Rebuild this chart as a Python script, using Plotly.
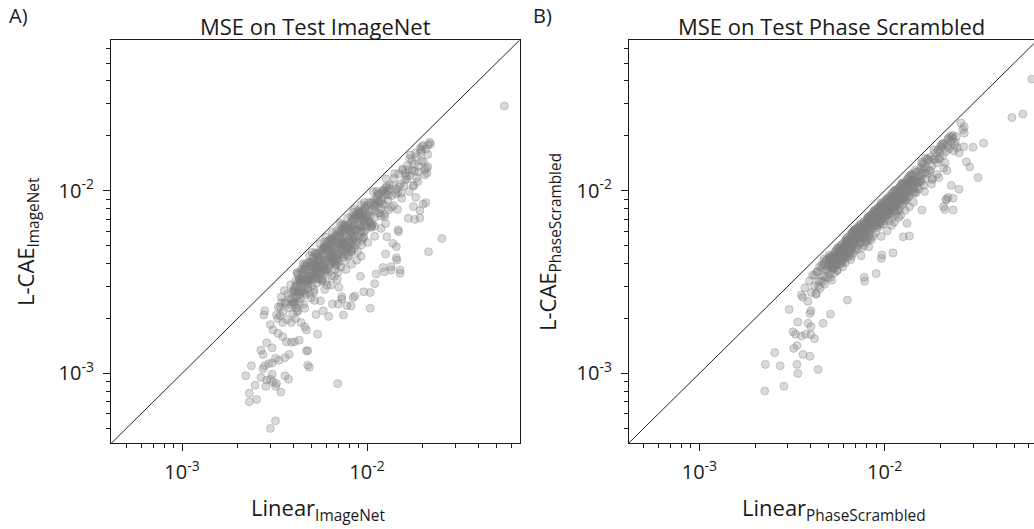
import plotly.graph_objects as go

W, H = 1034, 529

# ---------------- Panel A: MSE on Test ImageNet (values in units of 1e-3) ----------------
imagenet_linear_tail = [
    2.21, 2.31, 2.31, 2.53, 2.48, 2.37, 2.67, 2.87, 3.00, 3.10,
    3.24, 3.42, 3.76, 3.60, 2.84, 3.20, 3.07, 2.74, 2.79, 2.94,
    3.07, 3.20, 3.60, 3.80, 3.34, 4.78, 4.88, 4.70, 4.78, 2.67,
    2.74, 2.87, 3.07, 2.77, 3.24, 3.45, 3.60, 3.10, 3.30, 3.50,
    3.66, 3.90, 4.05, 4.30, 5.40, 4.70, 4.60, 10.4, 10.4, 6.94,
    3.0, 3.2, 55.2, 25.4, 21.5, 3.9, 4.1, 4.4, 4.2, 3.3,
    3.0, 3.5, 3.4, 2.8, 5.3, 5.8, 6.2, 5.6, 6.5, 7.0,
    7.3, 7.8, 8.4, 9.6, 11.0, 11.2, 12.2, 13.5, 15.1, 14.4,
    14.7, 18.3, 20.8, 17.8, 19.3, 22.0, 19.8, 21.1, 12.6, 9.2,
    15.1, 13.5, 12.4, 14.5, 8.6, 8.2, 7.45, 7.3, 14.8, 14.4,
    12.8, 13.8, 16.7, 18.1, 20.1, 19.3, 20.5, 21.4, 19.7, 17.0,
]
imagenet_lcae_tail = [
    0.97, 0.78, 0.70, 0.72, 0.86, 1.10, 0.95, 0.92, 0.93, 0.90,
    0.88, 0.79, 0.93, 0.97, 0.85, 0.85, 0.99, 1.06, 1.10, 1.13,
    1.14, 1.21, 1.22, 1.27, 1.18, 1.11, 1.08, 1.33, 1.33, 1.34,
    1.27, 1.47, 1.38, 2.09, 2.09, 2.44, 2.46, 1.73, 1.66, 1.59,
    1.49, 1.48, 1.49, 1.52, 1.64, 1.73, 1.80, 2.77, 2.27, 0.88,
    0.50, 0.55, 29.1, 5.48, 4.64, 1.90, 2.00, 1.90, 2.20, 2.00,
    1.85, 1.90, 2.30, 2.20, 2.10, 2.20, 2.05, 2.50, 2.40, 2.40,
    2.55, 2.35, 2.60, 2.80, 3.10, 3.50, 3.80, 3.84, 3.68, 4.30,
    6.10, 9.20, 8.60, 8.20, 7.10, 18.0, 17.4, 12.5, 4.50, 3.40,
    3.53, 3.68, 3.60, 4.18, 2.65, 2.34, 2.09, 2.63, 5.97, 4.94,
    5.60, 5.15, 7.06, 6.97, 8.45, 7.80, 12.2, 17.8, 16.7, 15.0,
]
imagenet_linear_core = [
    3.31, 3.38, 3.44, 3.52, 3.57, 3.63, 3.69, 3.74, 3.8, 3.86,
    3.91, 3.97, 4.02, 4.07, 4.12, 4.16, 4.21, 4.25, 4.28, 4.3,
    4.33, 4.37, 4.41, 4.45, 4.49, 4.53, 4.57, 4.61, 4.65, 4.69,
    4.73, 4.78, 4.82, 4.86, 4.91, 4.95, 5.0, 5.04, 5.09, 5.13,
    5.18, 5.22, 5.27, 5.31, 5.36, 5.4, 5.45, 5.48, 4.6, 5.2,
    5.52, 5.57, 5.62, 5.67, 5.72, 5.77, 5.82, 5.88, 5.93, 5.98,
    6.04, 6.1, 6.15, 6.21, 6.27, 6.32, 6.38, 6.44, 6.5, 6.56,
    6.62, 6.68, 6.74, 6.8, 6.86, 6.92, 6.98, 7.04, 7.1, 7.16,
    5.9, 6.4, 6.9, 7.05,
    7.23, 7.3, 7.37, 7.44, 7.51, 7.58, 7.66, 7.73, 7.81, 7.88,
    7.96, 8.04, 8.12, 8.2, 8.28, 8.36, 8.45, 8.53, 8.62, 8.71,
    8.8, 8.89, 8.98, 9.07, 9.17, 9.26, 9.36, 9.46, 7.7, 8.25,
    8.8, 9.3,
    9.57, 9.68, 9.8, 9.92, 10.04, 10.17, 10.3, 10.43, 10.57, 10.7,
    10.84, 10.98, 11.13, 11.28, 11.43, 11.58, 11.74, 11.9, 12.07, 12.24,
    12.41, 12.59, 12.77, 12.95, 10.1, 11.0, 11.9, 12.6,
    13.2, 13.6, 14.0, 14.4, 14.8, 15.2, 15.6, 16.1, 16.5, 17.0,
    17.5, 18.0, 18.5, 19.0, 19.6, 20.2, 20.8, 13.9, 15.4, 16.9,
    17.8, 18.8, 14.6, 21.3,
]
imagenet_lcae_core = [
    2.31, 2.07, 2.62, 2.18, 2.84, 2.41, 1.97, 2.73, 2.29, 3.05,
    2.54, 2.12, 2.87, 2.38, 3.21, 2.63, 2.19, 3.47, 2.81, 2.44,
    3.12, 2.58, 3.61, 2.83, 3.34, 2.39, 3.72, 3.07, 2.69, 3.88,
    3.26, 2.91, 3.54, 4.06, 2.74, 3.41, 3.89, 3.02, 4.27, 3.63,
    2.86, 3.97, 3.38, 4.49, 3.12, 3.77, 4.18, 3.31, 2.27, 2.51,
    4.07, 3.51, 4.62, 3.86, 3.24, 4.41, 4.88, 3.67, 4.29, 3.19,
    4.96, 4.08, 3.57, 4.73, 5.21, 3.94, 4.46, 3.43, 5.37, 4.62,
    4.01, 5.52, 3.71, 4.87, 5.68, 4.24, 3.59, 5.11, 5.84, 4.52,
    2.88, 3.05, 3.27, 2.96,
    5.33, 4.48, 6.02, 5.12, 4.11, 5.79, 6.34, 4.86, 5.57, 4.37,
    6.53, 5.31, 5.94, 4.69, 6.88, 5.62, 6.21, 4.84, 7.06, 6.11,
    5.27, 7.34, 6.48, 5.63, 7.57, 6.27, 5.06, 7.21, 3.71, 3.96,
    4.17, 4.38,
    6.84, 7.92, 6.11, 7.43, 8.27, 6.72, 7.71, 8.56, 6.38, 7.94,
    8.83, 7.12, 8.29, 9.31, 7.57, 8.74, 9.62, 7.98, 9.13, 10.07,
    8.36, 9.48, 10.54, 8.87, 5.21, 5.63, 6.22, 6.61,
    10.8, 9.4, 11.7, 10.2, 12.4, 10.9, 12.9, 11.5, 13.7, 12.1,
    14.6, 12.8, 15.3, 13.6, 16.2, 14.4, 16.9, 8.3, 9.1, 9.9,
    10.6, 11.2, 7.9, 15.8,
]
imagenet_linear_dense = [
    3.82, 3.9, 3.95, 4.05, 4.11, 4.19, 4.23, 4.31, 4.36, 4.42,
    4.47, 4.55, 4.59, 4.66, 4.71, 4.77, 4.84, 4.88, 4.93, 5.02,
    5.06, 5.11, 5.16, 5.24, 5.29, 5.34, 5.39, 5.44, 5.5, 5.55,
    5.61, 5.66, 5.7, 5.79, 5.84, 5.87, 5.95, 6.01, 6.06, 6.13,
    6.19, 6.24, 6.29, 6.36, 6.42, 6.47, 6.53, 6.59, 6.64, 6.72,
    6.77, 6.83, 6.88, 6.96, 7.01, 7.07, 7.14, 7.2, 7.27, 7.33,
    7.41, 7.47, 7.55, 7.62, 7.68, 7.76, 7.83, 7.91, 7.99, 8.07,
    8.15, 8.22, 8.31, 8.39, 8.48, 8.57, 8.66, 8.75, 8.84, 8.93,
    9.02, 9.12, 9.21, 9.31, 9.42, 9.52, 9.63, 9.74, 9.85, 9.97,
    10.08, 10.2, 10.33, 10.45, 10.58, 10.71, 10.85, 10.99, 11.13, 11.28,
    11.43, 11.59, 11.75, 11.92, 12.09, 12.26, 12.44, 12.62, 12.81, 13.0,
    4.0, 4.8, 5.6, 6.5, 7.4, 8.5, 9.6, 10.9, 5.2, 6.2,
]
imagenet_lcae_dense = [
    2.56, 2.38, 2.77, 2.47, 3.00, 3.56, 2.71, 3.28, 3.18, 2.96,
    3.26, 3.73, 3.90, 3.68, 4.00, 3.20, 3.10, 3.27, 4.04, 3.51,
    3.85, 3.27, 3.92, 3.67, 3.54, 3.58, 4.42, 3.64, 3.52, 4.38,
    4.77, 4.13, 3.31, 3.71, 4.79, 4.81, 4.17, 3.67, 5.15, 4.84,
    3.78, 4.74, 5.35, 4.26, 5.46, 5.50, 4.38, 5.21, 4.85, 4.10,
    3.93, 4.99, 5.64, 4.45, 4.07, 6.01, 5.64, 5.04, 6.18, 5.13,
    5.19, 5.45, 6.42, 4.88, 5.15, 4.50, 6.19, 6.49, 4.87, 6.13,
    5.71, 4.77, 6.32, 5.37, 6.95, 6.51, 5.54, 5.08, 7.25, 7.59,
    7.67, 7.48, 7.00, 5.96, 7.72, 5.52, 6.45, 6.82, 8.08, 6.38,
    7.36, 6.83, 7.23, 6.69, 6.45, 6.53, 8.57, 6.37, 8.46, 8.91,
    9.72, 9.50, 7.52, 7.27, 8.46, 10.05, 7.22, 10.35, 9.74, 9.49,
    2.44, 3.22, 3.58, 5.33, 4.74, 5.70, 5.57, 8.28, 3.95, 4.34,
]
imagenet_linear_extra = [
    10.2, 10.5, 10.8, 11.05, 11.3, 11.6, 11.85, 12.15, 12.4, 12.7,
    12.95, 13.25, 13.5, 13.8, 14.1, 14.35, 14.65, 14.95, 15.25, 15.55,
    15.85, 16.15, 16.5, 16.8, 17.15, 17.5, 17.85, 18.2, 18.55, 18.9,
    19.3, 19.7, 20.1, 20.5, 20.9, 21.3, 21.8, 16.3, 18.0, 13.1,
    4.52, 4.9, 5.25, 5.58, 5.9, 6.18, 6.5, 6.85, 7.15, 7.5,
    7.85, 8.2, 8.6, 8.95, 9.3, 9.7, 5.05, 6.0, 7.3, 8.4,
    4.15, 4.62, 4.98, 5.33, 5.71, 6.08, 6.45, 6.83, 7.22, 7.6,
    8.0, 8.45, 8.9, 9.4, 4.4, 5.15, 5.95, 6.65, 7.45, 8.25,
]
imagenet_lcae_extra = [
    8.62, 6.30, 9.88, 7.79, 9.94, 8.58, 8.77, 9.84, 7.44, 11.62,
    10.04, 10.27, 8.10, 10.70, 12.41, 9.61, 9.82, 10.54, 9.68, 13.14,
    10.62, 12.52, 11.63, 13.02, 15.69, 12.95, 10.71, 16.02, 11.78, 12.66,
    16.98, 14.58, 17.69, 13.02, 13.27, 13.53, 18.42, 12.06, 13.95, 7.86,
    3.98, 4.41, 4.57, 5.13, 5.25, 5.31, 5.92, 6.03, 6.65, 6.53,
    7.07, 7.22, 7.91, 7.79, 8.37, 8.63, 4.60, 5.58, 6.50, 7.64,
    2.28, 2.77, 2.59, 3.30, 3.20, 3.04, 4.13, 3.96, 3.83, 4.64,
    4.40, 5.07, 4.63, 5.36, 2.77, 2.78, 3.57, 3.39, 4.32, 4.62,
]
imagenet_linear_center = [
    4.00, 4.04, 4.07, 4.11, 4.15, 4.19, 4.22, 4.26, 4.30, 4.34,
    4.38, 4.42, 4.46, 4.50, 4.54, 4.58, 4.63, 4.67, 4.71, 4.75,
    4.80, 4.84, 4.89, 4.93, 4.98, 5.02, 5.07, 5.12, 5.16, 5.21,
    5.26, 5.31, 5.36, 5.41, 5.46, 5.51, 5.56, 5.61, 5.66, 5.72,
    5.77, 5.82, 5.88, 5.93, 5.99, 6.04, 6.10, 6.15, 6.21, 6.27,
    6.33, 6.39, 6.45, 6.51, 6.57, 6.63, 6.69, 6.75, 6.81, 6.88,
    6.94, 7.00, 7.07, 7.13, 7.20, 7.27, 7.33, 7.40, 7.47, 7.54,
    7.61, 7.68, 7.75, 7.82, 7.90, 7.97, 8.04, 8.12, 8.19, 8.27,
    8.35, 8.42, 8.50, 8.58, 8.66, 8.74, 8.82, 8.90, 8.99, 9.07,
    9.15, 9.24, 9.33, 9.41, 9.50, 9.59, 9.68, 9.77, 9.86, 9.95,
]
imagenet_lcae_center = [
    2.48, 2.81, 2.83, 2.96, 2.78, 3.54, 3.14, 2.85, 3.31, 2.69,
    3.26, 3.73, 3.32, 3.47, 3.16, 2.84, 3.68, 3.25, 3.86, 3.06,
    3.34, 3.24, 3.40, 3.30, 4.08, 3.87, 3.40, 4.07, 4.36, 3.75,
    3.66, 3.82, 4.53, 3.35, 4.34, 4.24, 3.86, 3.76, 3.93, 3.98,
    4.73, 3.90, 4.97, 4.86, 4.91, 3.74, 4.85, 4.58, 4.32, 4.04,
    5.35, 4.76, 4.32, 4.85, 4.24, 4.11, 4.32, 5.70, 4.22, 4.44,
    4.48, 5.22, 5.62, 4.96, 5.90, 5.05, 5.28, 4.77, 6.13, 5.99,
    6.43, 5.34, 4.81, 6.22, 4.90, 5.34, 5.19, 6.05, 5.90, 5.13,
    6.85, 7.11, 5.48, 6.18, 7.32, 7.39, 6.13, 6.41, 7.37, 7.44,
    6.59, 5.96, 7.18, 7.48, 7.08, 5.95, 8.18, 6.55, 7.10, 7.16,
]

# ---------------- Panel B: MSE on Test Phase Scrambled (values in units of 1e-3) ----------------
phase_linear_tail = [
    2.25, 2.86, 2.27, 2.73, 3.40, 3.36, 4.37, 2.55, 3.23, 3.36,
    3.62, 3.95, 3.05, 3.20, 3.30, 3.55, 3.74, 4.00, 4.18, 3.40,
    3.86, 4.00, 4.65, 3.95, 4.00, 3.55, 4.27, 4.18, 5.10, 6.30,
    7.80, 9.00, 9.60, 11.1, 12.6, 13.6, 21.1, 23.4, 23.4, 25.2,
    31.9, 34.2, 27.6, 26.7, 28.8, 22.9, 21.5, 26.9, 26.9, 30.0,
    48.6, 55.7, 62.3, 20.8, 21.5, 22.0, 15.9, 13.2, 9.67, 7.76,
]
phase_lcae_tail = [
    0.80, 0.85, 1.12, 1.10, 1.00, 1.12, 1.05, 1.30, 1.37, 1.42,
    1.27, 1.24, 2.24, 1.69, 1.64, 1.60, 1.64, 1.63, 1.55, 1.91,
    1.88, 1.80, 1.88, 2.13, 2.20, 2.69, 2.74, 3.45, 2.11, 2.52,
    3.20, 3.52, 4.26, 4.57, 5.60, 5.65, 7.90, 7.85, 9.10, 10.2,
    11.8, 18.2, 14.4, 17.4, 13.5, 10.7, 8.90, 22.4, 20.7, 17.3,
    25.2, 26.3, 40.8, 8.17, 9.00, 9.20, 7.84, 6.63, 4.45, 3.36,
]
phase_linear_core = [
    3.62, 3.71, 3.85, 3.93, 4.02, 4.08, 4.17, 4.26, 4.33, 4.41,
    4.48, 4.57,
    4.63, 4.69, 4.74, 4.81, 4.86, 4.92, 4.97, 5.03, 5.08, 5.12,
    5.18, 5.23, 5.27, 5.31, 5.36, 5.42, 5.47, 5.51, 5.56, 5.59,
    5.63, 5.67, 5.72, 5.76, 5.81, 5.85, 5.9, 5.94, 5.99, 6.03,
    6.08, 6.12, 6.17, 6.22, 6.26, 6.31, 6.35, 6.41, 6.46, 6.5,
    6.55, 6.61, 6.66, 6.7, 6.75, 6.81, 6.86, 6.9, 6.95, 6.99,
    7.03, 7.08, 7.12, 7.17, 7.23, 7.28, 7.33, 7.37, 7.42, 7.48,
    7.53, 7.58, 7.63, 7.69, 7.74, 7.79, 7.84, 7.9, 7.95, 8.01,
    8.06, 8.12, 8.17, 8.23, 8.29, 8.34, 8.4, 8.46, 8.51, 8.57,
    8.63, 8.68, 8.74, 8.8, 8.85, 8.91, 8.96, 8.99, 7.46, 8.21,
    9.04, 9.1, 9.16, 9.22, 9.29, 9.35, 9.41, 9.48, 9.54, 9.61,
    9.67, 9.73, 9.8, 9.87, 9.93, 10.0, 10.07, 10.14, 10.21, 10.28,
    10.35, 10.42, 10.5, 10.57, 10.64, 10.72, 10.79, 10.87, 10.95, 11.02,
    11.1, 11.18, 11.26, 11.34, 11.42, 11.49, 9.58, 10.33, 10.9, 11.3,
    11.58, 11.67, 11.76, 11.85, 11.94, 12.04, 12.13, 12.23, 12.33, 12.43,
    12.53, 12.64, 12.74, 12.85, 12.96, 13.07, 13.18, 13.3, 13.41, 13.53,
    13.65, 13.77, 13.9, 14.02, 14.15, 14.28, 14.41, 14.55, 14.68, 14.82,
    14.96, 12.2, 12.9, 13.6, 14.3, 11.9,
    15.1, 15.4, 15.7, 15.9, 16.2, 16.5, 16.8, 17.1, 17.4, 17.7,
    18.0, 18.4, 18.7, 19.1, 19.4, 19.8, 20.2, 20.6, 21.0, 21.4,
    21.9, 22.3, 22.8, 23.3, 23.9, 24.4, 16.4, 17.9, 19.6, 21.7,
]
phase_lcae_core = [
    2.61, 2.94, 2.48, 3.21, 2.77, 3.45, 3.02, 2.71, 3.58, 3.19,
    2.92, 3.77,
    3.42, 3.95, 3.08, 3.71, 4.18, 3.36, 3.87, 4.31, 3.52, 3.98,
    3.24, 4.46, 3.79, 4.12, 3.55, 4.63, 3.91, 4.27, 3.68, 4.88,
    4.21, 4.67, 3.93, 4.45, 5.02, 4.12, 4.71, 3.84, 5.18, 4.49,
    4.86, 4.03, 5.37, 4.64, 4.28, 5.09, 5.56, 4.42, 4.97, 5.71,
    4.19, 5.28, 4.81, 5.93, 4.56, 5.14, 6.01, 4.72, 5.47, 5.82,
    5.31, 6.02, 4.79, 5.68, 6.29, 5.07, 5.86, 6.43, 5.22, 5.97,
    4.88, 6.61, 5.54, 6.18, 5.01, 6.78, 5.83, 6.35, 5.29, 6.92,
    6.07, 5.46, 7.11, 6.38, 5.73, 7.02, 6.55, 5.38, 7.34, 6.21,
    6.87, 5.64, 7.49, 6.47, 7.06, 5.91, 7.68, 6.72, 4.41, 4.93,
    7.12, 6.43, 7.89, 6.81, 7.46, 8.14, 6.62, 7.73, 8.38, 6.97,
    7.58, 8.51, 7.24, 6.58, 8.66, 7.81, 7.02, 8.93, 8.07, 7.35,
    9.12, 7.66, 8.39, 6.84, 9.31, 8.02, 7.49, 9.58, 8.27, 7.13,
    9.74, 8.61, 7.88, 9.97, 8.43, 7.41, 5.62, 6.04, 6.47, 6.73,
    9.43, 8.36, 10.21, 8.97, 9.71, 10.48, 8.64, 9.92, 10.77, 9.18,
    8.41, 10.96, 9.63, 10.34, 8.89, 11.32, 9.86, 10.65, 11.61, 9.37,
    10.93, 11.84, 9.78, 11.12, 12.31, 10.36, 11.47, 9.92, 12.63, 10.88,
    11.74, 7.33, 7.81, 8.17, 8.66, 7.14,
    12.7, 11.2, 13.5, 12.1, 14.0, 12.5, 13.4, 14.8, 12.9, 15.3,
    13.7, 14.9, 16.1, 14.2, 16.8, 15.0, 17.3, 15.6, 18.2, 16.4,
    19.1, 17.0, 18.6, 20.1, 17.7, 19.8, 9.9, 10.9, 11.8, 12.9,
]
phase_linear_dense = [
    4.32, 4.39, 4.45, 4.52, 4.58, 4.64, 4.71, 4.77, 4.83, 4.9,
    4.96, 5.01, 5.07, 5.14, 5.2, 5.26, 5.33, 5.38, 5.45, 5.5,
    5.54, 5.6, 5.65, 5.71, 5.78, 5.83, 5.88, 5.93, 5.97, 6.02,
    6.07, 6.11, 6.16, 6.2, 6.25, 6.3, 6.34, 6.39, 6.44, 6.49,
    6.53, 6.58, 6.63, 6.68, 6.73, 6.78, 6.83, 6.88, 6.93, 6.98,
    7.04, 7.1, 7.15, 7.21, 7.26, 7.32, 7.38, 7.44, 7.5, 7.56,
    7.61, 7.67, 7.73, 7.8, 7.86, 7.92, 7.98, 8.05, 8.11, 8.18,
    8.24, 8.31, 8.38, 8.44, 8.51, 8.58, 8.65, 8.72, 8.79, 8.86,
    8.93, 9.01, 9.08, 9.16, 9.23, 9.31, 9.39, 9.47, 9.55, 9.63,
    9.71, 9.79, 9.88, 9.96, 10.05, 10.14, 10.23, 10.32, 10.41, 10.5,
    10.6, 10.69, 10.79, 10.89, 10.99, 11.09, 11.19, 11.3, 11.41, 11.52,
    11.63, 11.74, 11.86, 11.98, 12.1, 12.22, 12.35, 12.48, 12.61, 12.74,
    12.88, 13.02, 13.16, 13.3, 13.45, 13.6, 13.76, 13.92, 14.08, 14.25,
    14.42, 14.6, 14.78, 14.97, 15.16, 15.36, 15.57, 15.78, 16.0, 16.23,
]
phase_lcae_dense = [
    3.61, 3.01, 3.83, 3.21, 3.94, 3.18, 4.05, 3.39, 4.15, 3.72,
    3.89, 4.43, 3.35, 3.91, 4.08, 3.73, 3.92, 4.22, 4.01, 4.46,
    3.66, 3.98, 4.86, 4.77, 4.39, 4.87, 4.03, 4.36, 4.69, 4.27,
    4.92, 4.95, 4.37, 4.71, 5.53, 5.26, 5.29, 5.02, 5.38, 4.61,
    4.96, 5.49, 4.38, 5.91, 4.95, 5.49, 6.04, 6.09, 6.13, 5.48,
    6.23, 5.57, 5.97, 5.48, 6.43, 5.93, 5.98, 6.58, 6.08, 6.31,
    6.16, 5.45, 6.45, 6.51, 5.58, 6.02, 5.27, 6.72, 6.57, 6.63,
    6.06, 5.48, 6.16, 6.63, 6.25, 6.74, 6.57, 7.28, 6.90, 7.84,
    6.79, 7.07, 7.58, 6.27, 6.78, 8.01, 6.67, 6.49, 7.97, 8.28,
    7.62, 6.95, 7.76, 6.82, 8.14, 8.21, 7.77, 7.33, 8.69, 7.98,
    7.53, 8.93, 8.20, 8.82, 8.90, 8.15, 9.90, 7.74, 10.10, 8.47,
    8.26, 7.75, 7.83, 8.81, 7.99, 9.59, 10.93, 11.04, 8.95, 8.73,
    11.08, 8.92, 10.99, 10.11, 9.21, 10.0, 10.8, 12.32, 11.4, 11.54,
    10.24, 12.92, 9.75, 11.38, 11.14, 12.06, 13.0, 11.2, 14.16, 10.71,
]
phase_linear_extra = [
    14.1, 14.4, 14.7, 15.0, 15.3, 15.6, 15.95, 16.3, 16.6, 16.95,
    17.3, 17.65, 18.0, 18.4, 18.8, 19.2, 19.6, 20.0, 20.4, 20.8,
    21.2, 21.7, 22.1, 22.6, 23.1, 23.6, 24.1, 24.6, 25.2, 25.8,
    26.4, 15.8, 17.0, 18.2, 19.4, 20.6, 21.9, 23.4, 16.6, 19.9,
    5.05, 5.35, 5.62, 5.9, 6.15, 6.42, 6.7, 6.97, 7.24, 7.52,
    7.8, 8.08, 8.37, 8.66, 8.95, 9.26, 9.57, 9.9, 10.22, 10.56,
    10.9, 11.25, 11.6, 11.95, 5.2, 5.78, 6.33, 6.88, 7.4, 7.95,
    8.5, 9.1, 9.7, 10.35, 11.0, 11.7, 4.7, 12.3, 12.8, 13.3,
]
phase_lcae_extra = [
    10.72, 9.65, 11.17, 10.5, 10.25, 11.39, 12.6, 13.37, 11.62, 12.37,
    14.71, 12.88, 11.52, 16.74, 14.85, 12.29, 14.9, 17.6, 17.95, 13.31,
    14.2, 17.79, 19.45, 19.89, 19.64, 16.52, 18.32, 17.22, 16.13, 23.48,
    21.65, 14.38, 14.96, 11.65, 16.49, 18.13, 17.3, 19.19, 15.11, 16.32,
    4.31, 4.10, 4.18, 4.13, 4.98, 4.49, 5.87, 4.88, 6.18, 6.09,
    6.49, 7.08, 7.33, 7.40, 7.64, 6.89, 8.59, 7.58, 8.28, 7.86,
    9.31, 8.87, 9.14, 9.94, 3.98, 4.55, 4.57, 5.57, 5.18, 6.44,
    7.45, 7.77, 7.22, 7.93, 9.15, 9.73, 4.22, 9.69, 9.52, 11.65,
]
phase_linear_center = [
    5.00, 5.05, 5.10, 5.16, 5.21, 5.27, 5.32, 5.38, 5.43, 5.49,
    5.54, 5.60, 5.66, 5.72, 5.78, 5.84, 5.90, 5.96, 6.02, 6.08,
    6.15, 6.21, 6.28, 6.34, 6.41, 6.47, 6.54, 6.61, 6.68, 6.75,
    6.82, 6.89, 6.96, 7.03, 7.10, 7.18, 7.25, 7.33, 7.40, 7.48,
    7.56, 7.64, 7.72, 7.80, 7.88, 7.96, 8.04, 8.13, 8.21, 8.30,
    8.38, 8.47, 8.56, 8.65, 8.74, 8.83, 8.92, 9.01, 9.11, 9.20,
    9.30, 9.40, 9.49, 9.59, 9.69, 9.80, 9.90, 10.0, 10.1, 10.2,
    10.3, 10.4, 10.5, 10.7, 10.8, 10.9, 11.0, 11.1, 11.2, 11.4,
    11.5, 11.6, 11.7, 11.8, 12.0, 12.1, 12.2, 12.3, 12.5, 12.6,
    12.7, 12.9, 13.0, 13.1, 13.3, 13.4, 13.6, 13.7, 13.8, 14.0,
]
phase_lcae_center = [
    4.23, 4.18, 3.76, 4.09, 4.31, 3.79, 4.40, 4.45, 4.69, 3.95,
    4.79, 4.23, 4.28, 4.74, 4.58, 5.05, 4.25, 4.29, 4.44, 5.03,
    5.31, 4.92, 5.31, 5.36, 5.08, 4.77, 4.83, 5.71, 5.41, 5.22,
    5.77, 5.46, 5.26, 5.44, 5.62, 5.82, 5.74, 5.81, 5.59, 5.92,
    5.85, 6.46, 5.70, 5.62, 6.67, 6.45, 6.22, 7.17, 5.91, 7.02,
    7.09, 7.17, 6.78, 6.85, 7.71, 7.79, 6.74, 6.49, 7.54, 8.11,
    7.53, 7.61, 7.00, 8.11, 6.98, 7.41, 8.38, 8.28, 7.45, 8.81,
    7.97, 8.99, 8.69, 7.70, 8.94, 8.24, 9.11, 8.19, 8.67, 8.82,
    8.49, 8.98, 10.11, 9.35, 9.72, 10.45, 9.44, 8.86, 9.00, 9.07,
    10.74, 10.45, 9.83, 9.43, 10.53, 10.61, 12.0, 10.6, 10.68, 12.1,
]

UNIT = 1e-3
major_tick_vals = [1e-3, 1e-2]
major_tick_text = ["10<sup>-3</sup>", "10<sup>-2</sup>"]
minor_tick_vals = [5e-4, 6e-4, 7e-4, 8e-4, 9e-4,
                   2e-3, 3e-3, 4e-3, 5e-3, 6e-3, 7e-3, 8e-3, 9e-3,
                   2e-2, 3e-2, 4e-2, 5e-2, 6e-2, 7e-2, 8e-2, 9e-2]
panel_titles = ["MSE on Test ImageNet", "MSE on Test Phase Scrambled"]
panel_letters = ["A)", "B)"]
x_titles = ["Linear<sub>ImageNet</sub>", "Linear<sub>PhaseScrambled</sub>"]
y_titles = ["L-CAE<sub>ImageNet</sub>", "L-CAE<sub>PhaseScrambled</sub>"]

FONT = "Open Sans, Roboto, sans-serif"
INK = "#1a1a1a"

pairs_a = [(imagenet_linear_tail, imagenet_lcae_tail), (imagenet_linear_core, imagenet_lcae_core),
           (imagenet_linear_dense, imagenet_lcae_dense), (imagenet_linear_extra, imagenet_lcae_extra),
           (imagenet_linear_center, imagenet_lcae_center)]
pairs_b = [(phase_linear_tail, phase_lcae_tail), (phase_linear_core, phase_lcae_core),
           (phase_linear_dense, phase_lcae_dense), (phase_linear_extra, phase_lcae_extra),
           (phase_linear_center, phase_lcae_center)]
for a, b in pairs_a + pairs_b:
    assert len(a) == len(b)

fig = go.Figure()

marker = dict(size=8, color="rgba(128,128,128,0.30)",
              line=dict(width=1, color="rgba(128,128,128,0.36)"))

panels = [(pairs_a, "x", "y"), (pairs_b, "x2", "y2")]
for pairs, xa, ya in panels:
    xs = [v * UNIT for a, _ in pairs for v in a]
    ys = [v * UNIT for _, b in pairs for v in b]
    fig.add_trace(go.Scatter(
        x=xs, y=ys, mode="markers", marker=marker, xaxis=xa, yaxis=ya,
        showlegend=False, hoverinfo="skip"))
    fig.add_trace(go.Scatter(
        x=[1e-4, 1.0], y=[1e-4, 1.0], mode="lines",
        line=dict(color="#222222", width=1), xaxis=xa, yaxis=ya,
        showlegend=False, hoverinfo="skip"))

def px_x(p):
    return p / W

def px_y(p):
    return 1 - p / H

axis_common = dict(
    type="log", showgrid=False, zeroline=False,
    showline=True, mirror=True, linecolor=INK, linewidth=1,
    ticks="outside", ticklen=7, tickwidth=1, tickcolor=INK,
    tickvals=major_tick_vals, ticktext=major_tick_text,
    tickfont=dict(family=FONT, size=20, color=INK),
    minor=dict(ticks="outside", ticklen=4, tickwidth=1, tickcolor=INK,
               tickvals=minor_tick_vals, showgrid=False),
)

y_dom = [px_y(443), px_y(39.5)]
fig.update_layout(
    width=W, height=H, autosize=False,
    margin=dict(l=0, r=0, t=0, b=0),
    paper_bgcolor="white", plot_bgcolor="white",
    xaxis=dict(axis_common, domain=[px_x(111), px_x(519.5)], range=[-3.384, -1.176],
               anchor="y", ticklabelstandoff=4),
    yaxis=dict(axis_common, domain=y_dom, range=[-3.381, -1.172], anchor="x",
               ticklabelstandoff=5),
    xaxis2=dict(axis_common, domain=[px_x(629), 1.0], range=[-3.38, -1.194],
                anchor="y2", ticklabelstandoff=4),
    yaxis2=dict(axis_common, domain=y_dom, range=[-3.381, -1.172], anchor="x2",
                ticklabelstandoff=5),
)

ann = []
title_cx = [315, 831]
letter_x = [7, 531]
xt_cx = [318, 834]
yt_cx = [27, 549]
for i in range(2):
    ann.append(dict(text=panel_titles[i], x=px_x(title_cx[i]), y=px_y(26),
                    xref="paper", yref="paper", xanchor="center", yanchor="middle",
                    showarrow=False, font=dict(family=FONT, size=22, color=INK)))
    ann.append(dict(text=panel_letters[i], x=px_x(letter_x[i]), y=px_y(15),
                    xref="paper", yref="paper", xanchor="left", yanchor="middle",
                    showarrow=False, font=dict(family=FONT, size=20, color=INK)))
    ann.append(dict(text=x_titles[i], x=px_x(xt_cx[i]), y=px_y(509),
                    xref="paper", yref="paper", xanchor="center", yanchor="middle",
                    showarrow=False, font=dict(family=FONT, size=22, color=INK)))
    ann.append(dict(text=y_titles[i], x=px_x(yt_cx[i]), y=px_y(242),
                    xref="paper", yref="paper", xanchor="center", yanchor="middle",
                    textangle=-90, showarrow=False, font=dict(family=FONT, size=22, color=INK)))
fig.update_layout(annotations=ann)

fig.write_html("out.html")
